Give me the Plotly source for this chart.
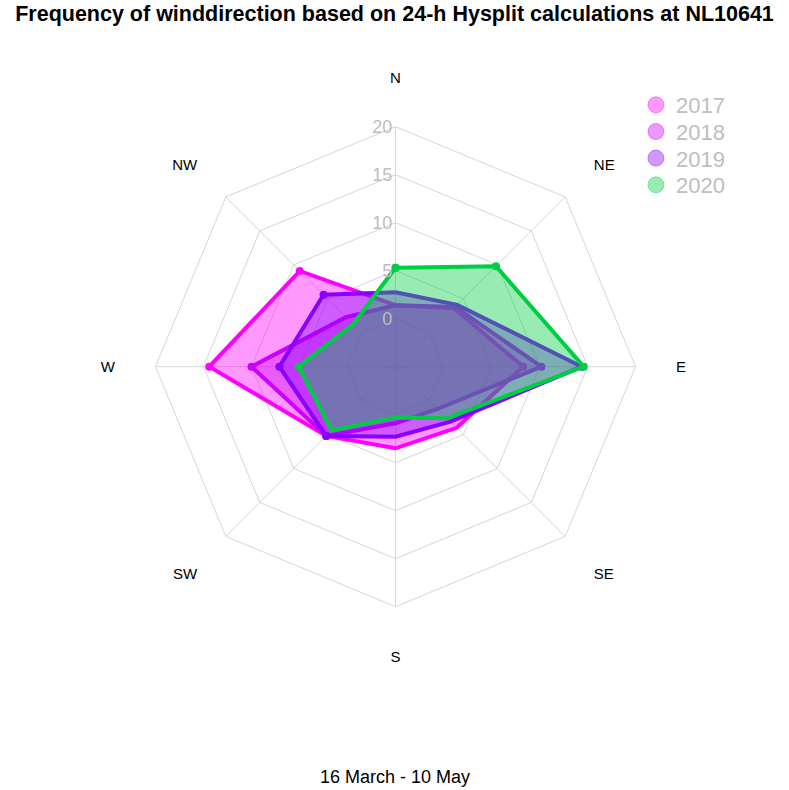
import plotly.graph_objects as go

directions = ["N", "NE", "E", "SE", "S", "SW", "W", "NW"]
years = ["2017", "2018", "2019", "2020"]
freq_2017 = [1.4, 3.6, 8.3, 4.0, 3.5, 5.2, 14.4, 9.1]
freq_2018 = [1.4, 3.8, 10.2, 1.2, 0.9, 5.2, 10.0, 2.3]
freq_2019 = [2.75, 4.1, 14.4, 3.1, 2.3, 5.2, 7.1, 5.6]
freq_2020 = [5.3, 9.8, 14.6, 2.6, 0.3, 4.4, 5.1, 1.25]
series = [freq_2017, freq_2018, freq_2019, freq_2020]
radial_ticks = [0, 5, 10, 15, 20]

line_colors = ["rgb(255,0,255)", "rgb(204,0,255)", "rgb(136,0,255)", "rgb(0,204,68)"]
fill_colors = ["rgba(255,0,255,0.4)", "rgba(204,0,255,0.4)", "rgba(136,0,255,0.4)", "rgba(0,204,68,0.4)"]
legend_names = ["legend", "legend2", "legend3", "legend4"]
legend_rows_px = [105, 131.7, 158.3, 185]

fig = go.Figure()
for yr, vals, lc, fc in zip(years, series, line_colors, fill_colors):
    fig.add_trace(go.Scatterpolar(
        r=vals + vals[:1], theta=directions + directions[:1],
        mode="lines+markers", fill="toself", fillcolor=fc,
        line=dict(color=lc, width=4), marker=dict(color=lc, size=8),
        showlegend=False, name=yr, hoverinfo="skip"))
for yr, fc, lg in zip(years, fill_colors, legend_names):
    fig.add_trace(go.Scatterpolar(
        r=[None], theta=[None], mode="markers", name=yr, legend=lg,
        marker=dict(color=fc, size=16, line=dict(color=fc, width=1))))

legend_style = dict(x=0.806, xanchor="left", yanchor="middle",
                    font=dict(size=22, color="#BEBEBE"), bgcolor="rgba(0,0,0,0)",
                    itemsizing="trace")

fig.update_layout(
    width=789, height=790,
    margin=dict(l=0, r=0, t=0, b=0),
    paper_bgcolor="white", plot_bgcolor="white",
    font=dict(family="Liberation Sans, Arial, sans-serif"),
    title=dict(text="<b>Frequency of winddirection based on 24-h Hysplit calculations at NL10641</b>",
               x=0.5, xanchor="center", y=1 - 6 / 790, yanchor="top",
               font=dict(size=21.5, color="black")),
    polar=dict(
        domain=dict(x=[0.1971, 0.8055], y=[0.2320, 0.8397]),
        bgcolor="white",
        gridshape="linear",
        radialaxis=dict(range=[-5, 20], tickvals=radial_ticks, ticktext=[str(t) for t in radial_ticks],
                        angle=90, side="counterclockwise", showline=False, ticks="",
                        tickangle=90,
                        gridcolor="#D6D6D6", gridwidth=1,
                        tickfont=dict(size=18, color="#BEBEBE")),
        angularaxis=dict(type="category", categoryarray=directions, rotation=90, direction="clockwise",
                         showline=True, linecolor="#D6D6D6", linewidth=1,
                         gridcolor="#D6D6D6", gridwidth=1,
                         ticks="outside", ticklen=37, tickcolor="rgba(0,0,0,0)",
                         tickfont=dict(size=15, color="black")),
    ),
)
for lg, ypx in zip(legend_names, legend_rows_px):
    fig.update_layout({lg: dict(legend_style, y=1 - ypx / 790)})
fig.add_annotation(text="16 March - 10 May", x=0.5, y=1 - 777 / 790, xref="paper", yref="paper",
                   showarrow=False, font=dict(size=18, color="black"), yanchor="middle")
fig.write_html("out.html", config={"displayModeBar": False},
               post_script="document.body.style.margin='0px';")
